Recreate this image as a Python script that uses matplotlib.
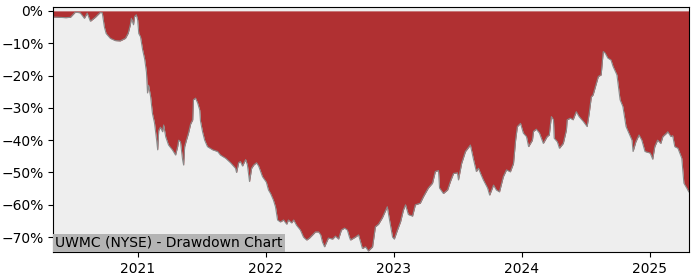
import pandas as pd
from matplotlib import pyplot as plt
from matplotlib.ticker import PercentFormatter
from matplotlib.offsetbox import AnchoredText

# drawdown readings (percent below running peak)
dates = [
    "2020-05-05", "2020-06-10", "2020-06-23", "2020-07-07", "2020-07-21", "2020-08-02",
    "2020-08-10", "2020-08-19", "2020-09-02", "2020-09-16", "2020-09-22", "2020-09-28",
    "2020-10-03", "2020-10-15", "2020-10-29", "2020-11-12", "2020-11-27", "2020-12-05",
    "2020-12-11", "2020-12-14", "2020-12-20", "2020-12-23", "2020-12-28", "2021-01-01",
    "2021-01-04", "2021-01-09", "2021-01-15", "2021-01-21", "2021-01-26", "2021-01-29",
    "2021-02-01", "2021-02-07", "2021-02-12", "2021-02-18", "2021-02-24", "2021-02-27",
    "2021-03-02", "2021-03-07", "2021-03-13", "2021-03-16", "2021-03-22", "2021-03-30",
    "2021-04-10", "2021-04-19", "2021-04-25", "2021-04-28", "2021-05-03", "2021-05-09",
    "2021-05-12", "2021-05-15", "2021-05-20", "2021-05-26", "2021-06-01", "2021-06-07",
    "2021-06-09", "2021-06-15", "2021-06-21", "2021-06-27", "2021-06-29", "2021-07-05",
    "2021-07-11", "2021-07-19", "2021-08-03", "2021-08-17", "2021-08-25", "2021-09-09",
    "2021-09-23", "2021-10-07", "2021-10-10", "2021-10-16", "2021-10-21", "2021-10-27",
    "2021-11-05", "2021-11-10", "2021-11-16", "2021-11-22", "2021-11-28", "2021-12-06",
    "2021-12-12", "2021-12-23", "2022-01-03", "2022-01-09", "2022-01-15", "2022-01-23",
    "2022-01-29", "2022-02-04", "2022-02-12", "2022-02-21", "2022-03-02", "2022-03-07",
    "2022-03-16", "2022-03-22", "2022-03-30", "2022-04-10", "2022-04-19", "2022-04-28",
    "2022-05-06", "2022-05-15", "2022-05-23", "2022-06-01", "2022-06-07", "2022-06-12",
    "2022-06-18", "2022-06-24", "2022-06-29", "2022-07-11", "2022-07-19", "2022-07-28",
    "2022-08-05", "2022-08-14", "2022-08-22", "2022-08-28", "2022-08-31", "2022-09-14",
    "2022-09-23", "2022-10-04", "2022-10-13", "2022-10-21", "2022-11-02", "2022-11-10",
    "2022-11-19", "2022-11-30", "2022-12-14", "2022-12-17", "2022-12-29", "2023-01-03",
    "2023-01-12", "2023-01-21", "2023-01-29", "2023-02-04", "2023-02-12", "2023-02-24",
    "2023-03-04", "2023-03-18", "2023-03-27", "2023-04-10", "2023-04-22", "2023-04-30",
    "2023-05-09", "2023-05-12", "2023-05-23", "2023-06-04", "2023-06-12", "2023-06-21",
    "2023-07-02", "2023-07-05", "2023-07-14", "2023-07-25", "2023-08-08", "2023-08-17",
    "2023-08-25", "2023-08-31", "2023-09-06", "2023-09-14", "2023-09-26", "2023-10-02",
    "2023-10-13", "2023-10-21", "2023-10-30", "2023-11-10", "2023-11-19", "2023-11-30",
    "2023-12-09", "2023-12-15", "2023-12-20", "2023-12-29", "2024-01-06", "2024-01-15",
    "2024-01-21", "2024-02-01", "2024-02-04", "2024-02-12", "2024-02-21", "2024-03-03",
    "2024-03-14", "2024-03-20", "2024-03-26", "2024-04-01", "2024-04-03", "2024-04-12",
    "2024-04-18", "2024-04-29", "2024-05-08", "2024-05-10", "2024-05-19", "2024-05-27",
    "2024-06-05", "2024-06-13", "2024-06-25", "2024-07-06", "2024-07-12", "2024-07-18",
    "2024-07-23", "2024-08-04", "2024-08-07", "2024-08-15", "2024-08-21", "2024-08-26",
    "2024-09-03", "2024-09-12", "2024-09-18", "2024-09-29", "2024-10-08", "2024-10-16",
    "2024-10-25", "2024-11-02", "2024-11-11", "2024-11-14", "2024-11-22", "2024-12-01",
    "2024-12-09", "2024-12-18", "2025-01-02", "2025-01-09", "2025-01-15", "2025-01-23",
    "2025-02-01", "2025-02-07", "2025-02-18", "2025-02-21", "2025-03-02", "2025-03-07",
    "2025-03-13", "2025-03-22", "2025-04-02", "2025-04-08", "2025-04-16", "2025-04-22",
]
drawdown = [
    -1.9, -2.1, -2.0, -0.4, -0.6, -2.3,
    -0.7, -3.2, -2.0, -0.5, -0.6, -5.0,
    -7.0, -8.5, -9.2, -9.3, -8.5, -6.9,
    -4.3, -2.3, -4.3, -1.8, -1.2, -2.8,
    -7.0, -8.0, -12.0, -15.0, -19.0, -25.4,
    -23.0, -26.6, -31.7, -34.7, -40.0, -43.0,
    -37.0, -36.0, -37.4, -35.3, -39.0, -41.5,
    -43.0, -44.6, -42.0, -40.0, -40.5, -46.0,
    -47.7, -42.0, -40.0, -37.8, -35.0, -33.7,
    -27.5, -27.0, -28.5, -30.7, -34.0, -37.4,
    -40.0, -42.0, -43.0, -43.5, -44.6, -45.6,
    -47.0, -48.7, -50.0, -47.0, -46.6, -48.0,
    -46.0, -47.7, -52.8, -48.7, -47.7, -47.0,
    -48.0, -51.3, -53.0, -55.4, -56.5, -58.5,
    -60.6, -64.7, -65.3, -64.7, -66.0, -64.7,
    -65.6, -64.7, -66.3, -67.8, -70.0, -70.9,
    -70.3, -69.3, -68.4, -68.4, -69.3, -71.5,
    -73.0, -71.5, -70.3, -70.6, -69.7, -70.6,
    -67.8, -67.2, -67.8, -70.0, -70.9, -70.0,
    -69.3, -73.5, -73.0, -74.3, -73.0, -66.8,
    -66.0, -64.0, -60.6, -62.6, -70.0, -70.6,
    -67.8, -65.2, -61.6, -60.0, -63.0, -63.5,
    -60.0, -59.5, -57.5, -54.8, -53.3, -49.7,
    -49.4, -54.8, -56.5, -55.4, -52.8, -50.3,
    -50.1, -52.3, -47.2, -43.5, -41.5, -46.0,
    -49.7, -48.7, -50.3, -52.3, -54.8, -57.0,
    -53.9, -55.4, -56.0, -51.3, -49.2, -49.8,
    -47.2, -40.0, -35.8, -34.8, -37.8, -38.9,
    -42.0, -40.0, -37.3, -36.6, -37.8, -41.0,
    -38.9, -38.4, -32.7, -33.7, -39.4, -40.5,
    -42.5, -41.0, -36.8, -33.7, -33.2, -33.7,
    -31.2, -32.7, -34.2, -35.8, -31.6, -26.6,
    -26.0, -21.4, -20.3, -19.8, -12.6, -13.0,
    -14.6, -15.2, -17.2, -19.8, -27.5, -29.6,
    -35.8, -37.8, -40.0, -43.5, -40.5, -38.4,
    -40.0, -43.5, -44.0, -45.9, -42.0, -40.0,
    -41.0, -38.9, -37.8, -37.4, -38.9, -38.6,
    -42.0, -42.5, -45.6, -53.3, -54.8, -56.0,
]
title = "UWMC (NYSE) - Drawdown Chart"

x = pd.to_datetime(dates)

fig = plt.figure(figsize=(7, 2.8), dpi=100)
ax = fig.add_axes([0.076, 0.1, 0.908, 0.875])
ax.set_facecolor("#eeeeee")

ax.fill_between(x, drawdown, 0, color="#b03032", linewidth=0)
ax.plot(x, drawdown, color="#8a8a8a", linewidth=0.8)

ax.set_xlim(x[0], x[-1])
ax.set_ylim(-74.6, 1.2)
ax.set_yticks([0, -10, -20, -30, -40, -50, -60, -70])
ax.yaxis.set_major_formatter(PercentFormatter(xmax=100, decimals=0))
ax.set_xticks(pd.to_datetime(["2021-01-01", "2022-01-01", "2023-01-01",
                              "2024-01-01", "2025-01-01"]))
ax.set_xticklabels(["2021", "2022", "2023", "2024", "2025"])
ax.tick_params(labelsize=10)

label = AnchoredText(title, loc="lower left", frameon=True,
                     borderpad=0, pad=0.15, prop=dict(size=10))
label.patch.set_facecolor("#b4b4b4")
label.patch.set_edgecolor("none")
ax.add_artist(label)

fig.savefig("out.png", dpi=100)
